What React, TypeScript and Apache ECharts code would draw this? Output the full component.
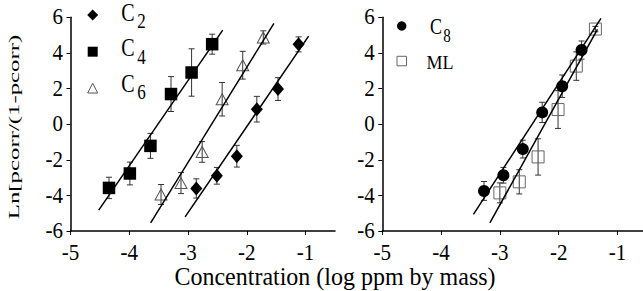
import React, { useEffect, useRef } from "react";
import * as echarts from "echarts";

// ---- data ----
const xTicks = [-5, -4, -3, -2, -1];
const yTicks = [-6, -4, -2, 0, 2, 4, 6];

const c2X = [-2.86, -2.51, -2.17, -1.83, -1.47, -1.12];
const c2Y = [-3.61, -2.9, -1.8, 0.84, 1.97, 4.48];
const c2Err = [0.54, 0.47, 0.61, 0.72, 0.64, 0.42];
const c2LineX = [-3.05, -0.949];
const c2LineY = [-5.21, 4.94];

const c4X = [-4.345, -3.99, -3.64, -3.29, -2.94, -2.59];
const c4Y = [-3.58, -2.77, -1.22, 1.69, 2.9, 4.49];
const c4Err = [0.6, 0.64, 0.7, 0.98, 1.33, 0.56];
const c4LineX = [-4.52, -2.41];
const c4LineY = [-4.83, 5.28];

const c6X = [-3.46, -3.12, -2.76, -2.42, -2.07, -1.72];
const c6Y = [-3.95, -3.31, -1.56, 1.4, 3.31, 4.87];
const c6Err = [0.56, 0.59, 0.58, 0.94, 0.78, 0.37];
const c6LineX = [-3.636, -1.539];
const c6LineY = [-5.54, 5.66];

const c8X = [-3.27, -2.94, -2.61, -2.28, -1.94, -1.61];
const c8Y = [-3.75, -2.87, -1.4, 0.66, 2.13, 4.16];
const c8Err = [0.53, 0.44, 0.5, 0.57, 0.63, 0.51];
const c8LineX = [-3.45, -1.28];
const c8LineY = [-5.07, 5.94];

const mlX = [-3.0, -2.67, -2.35, -2.01, -1.7, -1.375];
const mlY = [-3.86, -3.24, -1.84, 0.82, 3.26, 5.34];
const mlErr = [0.56, 0.68, 1.02, 1.06, 0.8, 0.15];
const mlLineX = [-3.17, -1.34];
const mlLineY = [-5.54, 5.32];

const FONT = "Liberation Serif";

function pts(xs: number[], ys: number[]) {
  return xs.map((x, i) => [x, ys[i]]);
}
function errs(xs: number[], ys: number[], es: number[]) {
  return xs.map((x, i) => [x, ys[i] - es[i], ys[i] + es[i]]);
}

function errSeries(data: number[][], idx: number) {
  return {
    type: "custom",
    xAxisIndex: idx,
    yAxisIndex: idx,
    z: 1,
    encode: { x: 0, y: [1, 2] },
    data,
    renderItem: (params: any, api: any) => {
      const x = api.value(0);
      const lo = api.value(1);
      const hi = api.value(2);
      const p1 = api.coord([x, hi]);
      const p2 = api.coord([x, lo]);
      const cap = 3;
      const st = { stroke: "#333", lineWidth: 1 };
      return {
        type: "group",
        children: [
          { type: "line", shape: { x1: p1[0], y1: p1[1], x2: p2[0], y2: p2[1] }, style: st },
          { type: "line", shape: { x1: p1[0] - cap, y1: p1[1], x2: p1[0] + cap, y2: p1[1] }, style: st },
          { type: "line", shape: { x1: p2[0] - cap, y1: p2[1], x2: p2[0] + cap, y2: p2[1] }, style: st },
        ],
      };
    },
  };
}

function lineSeries(xs: number[], ys: number[], idx: number) {
  return {
    type: "line",
    xAxisIndex: idx,
    yAxisIndex: idx,
    z: 3,
    data: pts(xs, ys),
    symbol: "none",
    lineStyle: { color: "#000", width: 1.5 },
  };
}

function scatter(xs: number[], ys: number[], idx: number, symbol: string, size: any, style: any) {
  return {
    type: "scatter",
    xAxisIndex: idx,
    yAxisIndex: idx,
    z: 2,
    data: pts(xs, ys),
    symbol,
    symbolSize: size,
    itemStyle: { opacity: 1, ...style },
  };
}

function xAxis(idx: number, max: number) {
  return {
    type: "value",
    gridIndex: idx,
    min: -5,
    max,
    interval: 1,
    axisLine: { show: true, onZero: false, lineStyle: { color: "#000", width: 1.5 } },
    axisTick: { show: true, length: 4, customValues: xTicks, lineStyle: { color: "#000", width: 1 } },
    axisLabel: { show: false },
    splitLine: { show: false },
  };
}
function yAxis(idx: number) {
  return {
    type: "value",
    gridIndex: idx,
    min: -6,
    max: 6,
    interval: 2,
    axisLine: { show: true, onZero: false, lineStyle: { color: "#000", width: 1.5 } },
    axisTick: { show: true, length: 4, customValues: yTicks, lineStyle: { color: "#000", width: 1 } },
    axisLabel: { show: false },
    splitLine: { show: false },
  };
}

function txt(x: number, y: number, text: string, size: number, extra: any = {}, align = "center") {
  return {
    type: "text",
    x,
    y,
    scaleY: 1.01,
    ...extra,
    style: {
      text,
      fill: "#000",
      fontFamily: FONT,
      fontSize: size,
      align,
      verticalAlign: "middle",
    },
  };
}

export default function App() {
  const ref = useRef<HTMLDivElement>(null);
  useEffect(() => {
    if (!ref.current) return;
    const chart = echarts.init(ref.current, undefined, { renderer: "svg" });
    const option: any = {
      animation: false,
      backgroundColor: "#fff",
      grid: [
        { left: 70.5, top: 17.3, width: 264.5, height: 213.7 },
        { left: 382.3, top: 17.3, width: 260.7, height: 213.7 },
      ],
      xAxis: [xAxis(0, -0.5), xAxis(1, -0.565)],
      yAxis: [yAxis(0), yAxis(1)],
      series: [
        errSeries(errs(c2X, c2Y, c2Err), 0),
        errSeries(errs(c4X, c4Y, c4Err), 0),
        errSeries(errs(c6X, c6Y, c6Err), 0),
        errSeries(errs(c8X, c8Y, c8Err), 1),
        errSeries(errs(mlX, mlY, mlErr), 1),
        lineSeries(c2LineX, c2LineY, 0),
        lineSeries(c4LineX, c4LineY, 0),
        lineSeries(c6LineX, c6LineY, 0),
        lineSeries(c8LineX, c8LineY, 1),
        lineSeries(mlLineX, mlLineY, 1),
        scatter(c2X, c2Y, 0, "diamond", [12, 14], { color: "#000" }),
        scatter(c4X, c4Y, 0, "rect", 12.5, { color: "#000" }),
        scatter(c6X, c6Y, 0, "triangle", [12, 11], { color: "transparent", borderColor: "#555", borderWidth: 1 }),
        scatter(c8X, c8Y, 1, "circle", 12, { color: "#000" }),
        scatter(mlX, mlY, 1, "rect", 12, { color: "transparent", borderColor: "#666", borderWidth: 1 }),
      ],
    };
    chart.setOption(option);

    // tick labels positioned through the axes' own scales
    const tickTexts: any[] = [];
    [0, 1].forEach((idx) => {
      const finder = { xAxisIndex: idx, yAxisIndex: idx };
      xTicks.forEach((v) => {
        const p = chart.convertToPixel(finder as any, [v, -6]) as number[];
        tickTexts.push(txt(p[0], p[1] + 21.5, String(v), 21, { scaleY: 1.05 }));
      });
      yTicks.forEach((v) => {
        const p = chart.convertToPixel(finder as any, [-5, v]) as number[];
        tickTexts.push(txt(p[0] - 7.5, p[1], String(v), 21, { scaleY: 1.05 }, "right"));
      });
    });

    const rowGap = 35.7;
    const legendLeft: any[] = [];
    const subs = ["2", "4", "6"];
    subs.forEach((s, i) => {
      const cy = 12.5 + i * rowGap;
      legendLeft.push(txt(128, cy, "C", 20, { scaleY: 1.25 }));
      legendLeft.push(txt(141.5, cy + 8.3, s, 17, { scaleY: 1.2 }));
    });

    chart.setOption({
      graphic: [
        ...tickTexts,
        // y axis title
        {
          type: "text",
          x: 14,
          y: 127,
          rotation: Math.PI / 2,
          scaleX: 1.6,
          style: {
            text: "Ln[pcorr/(1-pcorr)",
            fill: "#000",
            fontFamily: FONT,
            fontSize: 15.5,
            align: "center",
            verticalAlign: "middle",
          },
        },
        // x axis title
        txt(335, 276.5, "Concentration (log ppm by mass)", 24, { scaleY: 1.05 }),
        // left legend symbols
        {
          type: "polygon",
          shape: { points: [[92.7, 9.5], [98.2, 15], [92.7, 20.5], [87.2, 15]] },
          style: { fill: "#000" },
        },
        { type: "rect", shape: { x: 87.7, y: 46.7, width: 10, height: 10 }, style: { fill: "#000" } },
        {
          type: "polygon",
          shape: { points: [[92.7, 83.3], [97.7, 93], [87.7, 93]] },
          style: { fill: "none", stroke: "#555", lineWidth: 1 },
        },
        ...legendLeft,
        // right legend
        { type: "circle", shape: { cx: 401.7, cy: 26, r: 4.7 }, style: { fill: "#000" } },
        txt(436, 25.8, "C", 18, { scaleY: 1.25 }),
        txt(447, 35.8, "8", 15, { scaleY: 1.2 }),
        { type: "rect", shape: { x: 397, y: 56.3, width: 9.5, height: 9.5 }, style: { fill: "none", stroke: "#666", lineWidth: 1 } },
        txt(440, 61.7, "ML", 18, { scaleY: 1.1 }),
      ],
    });
    return () => chart.dispose();
  }, []);
  return (
    <div
      ref={ref}
      style={{ position: "absolute", left: 0, top: 0, width: 643, height: 291, background: "#fff" }}
    />
  );
}
